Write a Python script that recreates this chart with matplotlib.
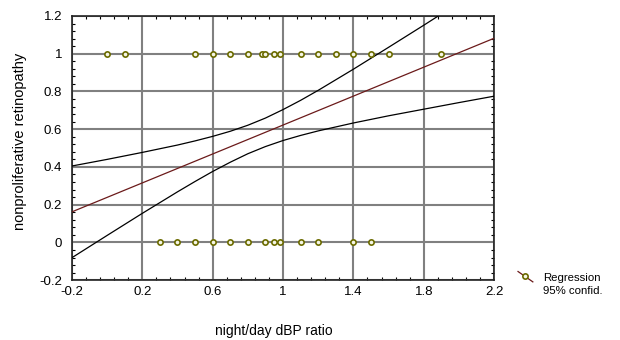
import matplotlib
matplotlib.use("Agg")
import matplotlib.pyplot as plt
from matplotlib.lines import Line2D
from matplotlib.legend_handler import HandlerBase
from matplotlib.ticker import FixedLocator, AutoMinorLocator

plt.rcParams['font.family'] = ['Liberation Sans', 'DejaVu Sans']

# observed cases (night/day dBP ratio) by outcome
x_pos = [0.0, 0.1, 0.5, 0.6, 0.7, 0.8, 0.88, 0.9, 0.95, 0.98,
         1.1, 1.2, 1.3, 1.4, 1.5, 1.6, 1.9]
y_pos = [1] * len(x_pos)
x_neg = [0.3, 0.4, 0.5, 0.6, 0.7, 0.8, 0.9, 0.95, 0.98, 1.1, 1.2, 1.4, 1.5]
y_neg = [0] * len(x_neg)

reg_x = [-0.2, 2.2]
reg_y = [0.162, 1.082]

# 95% confidence band
ci_x = [-0.2, 0.0, 0.2, 0.4, 0.5, 0.6, 0.7, 0.8, 0.9, 1.0, 1.1, 1.2, 1.4, 1.6, 1.8, 2.0, 2.2]
ci_up = [0.405, 0.440, 0.477, 0.516, 0.538, 0.562, 0.589, 0.621, 0.659, 0.704,
         0.753, 0.806, 0.918, 1.034, 1.151, 1.270, 1.389]
ci_lo = [-0.081, 0.037, 0.154, 0.268, 0.323, 0.376, 0.425, 0.470, 0.508, 0.540,
         0.567, 0.591, 0.633, 0.671, 0.706, 0.741, 0.775]

x_ticks = [-0.2, 0.2, 0.6, 1.0, 1.4, 1.8, 2.2]
y_ticks = [-0.2, 0.0, 0.2, 0.4, 0.6, 0.8, 1.0, 1.2]

olive = '#6b6b00'
reg_color = '#6b1a1a'
mk = dict(marker='o', ms=3.8, mfc='#f6f6e6', mec=olive, mew=1.2)


class DiagonalHandler(HandlerBase):
    # short slanted line with the marker on it, like the original key
    def create_artists(self, legend, orig, xd, yd, w, h, fontsize, trans):
        x0, x1 = -xd, -xd + w
        y0, y1 = -yd + h * 1.2, -yd - h * 0.1
        line = Line2D([x0, x1], [y0, y1], color=reg_color, lw=0.9, transform=trans)
        dot = Line2D([x0 + 0.45 * w], [y0 + 0.45 * (y1 - y0)], ls='none',
                     transform=trans, **mk)
        return [line, dot]


fig = plt.figure(figsize=(6.2, 3.4), dpi=100)
ax = fig.add_axes([0.116, 0.176, 0.681, 0.777])

ax.grid(True, which='major', color='#808080', lw=1.5)
ax.set_axisbelow(True)

ax.plot(ci_x, ci_up, color='black', lw=0.9, zorder=3)
ax.plot(ci_x, ci_lo, color='black', lw=0.9, zorder=3)
ax.plot(reg_x, reg_y, color=reg_color, lw=0.9, zorder=3)

for xs, ys in [(x_pos, y_pos), (x_neg, y_neg)]:
    ax.plot(xs, ys, ls='none', zorder=4, **mk)

ax.set_xlim(-0.2, 2.2)
ax.set_ylim(-0.2, 1.2)
ax.xaxis.set_major_locator(FixedLocator(x_ticks))
ax.yaxis.set_major_locator(FixedLocator(y_ticks))
ax.xaxis.set_minor_locator(AutoMinorLocator(5))
ax.yaxis.set_minor_locator(AutoMinorLocator(5))
fmt = lambda v, p: "0" if abs(v) < 1e-9 else f"{v:g}"
ax.xaxis.set_major_formatter(fmt)
ax.yaxis.set_major_formatter(fmt)
ax.tick_params(which='both', direction='in', top=True, right=True, color='black')
ax.tick_params(which='major', length=0, labelsize=9.5)
ax.tick_params(axis='x', which='major', pad=4)
ax.tick_params(axis='y', which='major', pad=7)
ax.tick_params(which='minor', length=2.5, width=0.8)
for s in ax.spines.values():
    s.set_color('#222222')
    s.set_linewidth(1.2)

ax.set_xlabel('night/day dBP ratio', fontsize=10)
ax.set_ylabel('nonproliferative retinopathy', fontsize=10.5)
ax.xaxis.set_label_coords(0.479, -0.167)
ax.yaxis.set_label_coords(-0.107, 0.527)

handles = [Line2D([], []), Line2D([], [], color='none')]
fig.legend(handles, ['Regression', '95% confid.'], loc='upper left',
           bbox_to_anchor=(0.819, 0.227), frameon=False, fontsize=8.2,
           handlelength=1.3, handletextpad=0.9, labelspacing=0.25,
           handler_map={handles[0]: DiagonalHandler()})

fig.savefig('out.png', dpi=100)
